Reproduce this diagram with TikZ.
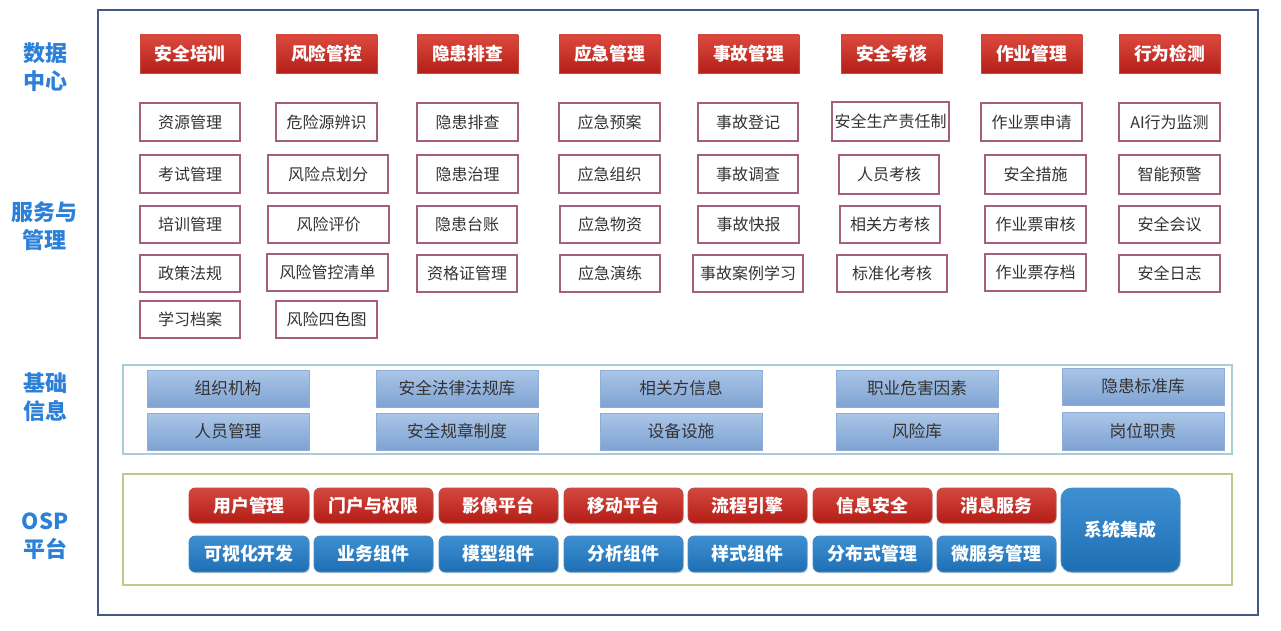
\documentclass[tikz,border=0pt]{standalone}
\usepackage{fontspec}
\setmainfont{Noto Sans CJK SC}
\usetikzlibrary{shadows}
\definecolor{frameC}{HTML}{3F5B86}
\definecolor{lblC}{HTML}{2C80D8}
\definecolor{hdrT}{HTML}{DB4A3E}
\definecolor{hdrB}{HTML}{B41F18}
\definecolor{hdrD}{HTML}{C8463E}
\definecolor{svcC}{HTML}{A45E7E}
\definecolor{txtC}{HTML}{333333}
\definecolor{baseT}{HTML}{ABC6E7}
\definecolor{baseB}{HTML}{7EA2D2}
\definecolor{baseD}{HTML}{8EAED6}
\definecolor{baseBox}{HTML}{A9CCD8}
\definecolor{ospBox}{HTML}{B8CC8C}
\definecolor{ospRT}{HTML}{D4483E}
\definecolor{ospRB}{HTML}{B31D17}
\definecolor{ospBT}{HTML}{3E90D2}
\definecolor{ospBB}{HTML}{1E6EB4}
\newcommand\bx[7]{\node[#6, minimum width={(#4-#2)*0.75pt}, minimum height={(#5-#3)*0.75pt}] (#1) at ({(#2+#4)/2},{(#3+#5)/2}) {#7};}
\begin{document}
\begin{tikzpicture}[x=0.75pt,y=-0.75pt,
  lbl/.style={text=lblC, font=\bfseries\fontsize{16.5}{21}\selectfont, align=center, inner sep=0},
  hdr/.style={top color=hdrT, bottom color=hdrB, draw=hdrD, line width=0.6pt, text=white, font=\bfseries\fontsize{13.3}{16}\selectfont, inner sep=0},
  svc/.style={draw=svcC, line width=1.1pt, fill=white, text=txtC, font=\fontsize{12}{14}\selectfont, inner sep=0},
  basebox/.style={top color=baseT, bottom color=baseB, draw=baseD, line width=0.5pt, text=txtC, font=\fontsize{12.5}{15}\selectfont, inner sep=0},
  ospr/.style={rounded corners=4.5pt, top color=ospRT, bottom color=ospRB, draw=ospRB!80!white, line width=0.5pt, text=white, font=\bfseries\fontsize{13.4}{16}\selectfont, inner sep=0, drop shadow={shadow xshift=0.6pt, shadow yshift=-1pt, opacity=0.3}},
  ospb/.style={rounded corners=4.5pt, top color=ospBT, bottom color=ospBB, draw=ospBB!80!white, line width=0.5pt, text=white, font=\bfseries\fontsize{13.4}{16}\selectfont, inner sep=0, drop shadow={shadow xshift=0.6pt, shadow yshift=-1pt, opacity=0.3}},
  container/.style={inner sep=0, fill=none}
]
\useasboundingbox (0,0) rectangle (1281,631);
% frame and section containers
\bx{frame}{98}{10}{1258}{615}{container, draw=frameC, line width=1.5pt}{}
\bx{basesec}{123}{365}{1232}{454}{container, draw=baseBox, line width=1.2pt}{}
\bx{ospsec}{123}{474}{1232}{585}{container, draw=ospBox, line width=1.5pt}{}
% left labels
\node[lbl] (l1) at (45,67) {数据\\中心};
\node[lbl] (l2) at (45,226) {服务与\\管理};
\node[lbl] (l3) at (45,397) {基础\\信息};
\node[lbl] (l4) at (45,536) {OSP\\平台};
% headers
\bx{h1}{140}{35}{240}{73}{hdr}{安全培训}
\bx{h2}{276}{35}{377}{73}{hdr}{风险管控}
\bx{h3}{417}{35}{518}{73}{hdr}{隐患排查}
\bx{h4}{559}{35}{660}{73}{hdr}{应急管理}
\bx{h5}{698}{35}{799}{73}{hdr}{事故管理}
\bx{h6}{841}{35}{942}{73}{hdr}{安全考核}
\bx{h7}{981}{35}{1082}{73}{hdr}{作业管理}
\bx{h8}{1119}{35}{1220}{73}{hdr}{行为检测}
% column 1
\bx{a1}{140}{103}{240}{141}{svc}{资源管理}
\bx{a2}{140}{155}{240}{193}{svc}{考试管理}
\bx{a3}{140}{206}{240}{243}{svc}{培训管理}
\bx{a4}{140}{255}{240}{292}{svc}{政策法规}
\bx{a5}{140}{301}{240}{338}{svc}{学习档案}
% column 2
\bx{b1}{276}{103}{377}{141}{svc}{危险源辨识}
\bx{b2}{268}{155}{388}{193}{svc}{风险点划分}
\bx{b3}{268}{206}{389}{243}{svc}{风险评价}
\bx{b4}{267}{254}{388}{291}{svc}{风险管控清单}
\bx{b5}{276}{301}{377}{338}{svc}{风险四色图}
% column 3
\bx{c1}{417}{103}{518}{141}{svc}{隐患排查}
\bx{c2}{417}{155}{518}{193}{svc}{隐患治理}
\bx{c3}{417}{206}{517}{243}{svc}{隐患台账}
\bx{c4}{417}{255}{517}{292}{svc}{资格证管理}
% column 4
\bx{d1}{559}{103}{660}{141}{svc}{应急预案}
\bx{d2}{559}{155}{660}{193}{svc}{应急组织}
\bx{d3}{560}{206}{660}{243}{svc}{应急物资}
\bx{d4}{560}{255}{660}{292}{svc}{应急演练}
% column 5
\bx{e1}{698}{103}{798}{141}{svc}{事故登记}
\bx{e2}{698}{155}{798}{193}{svc}{事故调查}
\bx{e3}{698}{206}{799}{243}{svc}{事故快报}
\bx{e4}{693}{255}{803}{292}{svc}{事故案例学习}
% column 6
\bx{f1}{832}{102}{949}{141}{svc}{安全生产责任制}
\bx{f2}{839}{155}{939}{194}{svc}{人员考核}
\bx{f3}{840}{206}{940}{243}{svc}{相关方考核}
\bx{f4}{837}{255}{947}{292}{svc}{标准化考核}
% column 7
\bx{g1}{981}{103}{1082}{141}{svc}{作业票申请}
\bx{g2}{985}{155}{1086}{194}{svc}{安全措施}
\bx{g3}{985}{206}{1086}{243}{svc}{作业票审核}
\bx{g4}{985}{254}{1086}{291}{svc}{作业票存档}
% column 8
\bx{k1}{1119}{103}{1220}{141}{svc}{AI行为监测}
\bx{k2}{1119}{155}{1220}{194}{svc}{智能预警}
\bx{k3}{1119}{206}{1220}{243}{svc}{安全会议}
\bx{k4}{1119}{255}{1220}{292}{svc}{安全日志}
% base info
\bx{p1}{147}{370}{309}{407}{basebox}{组织机构}
\bx{p2}{147}{413}{309}{450}{basebox}{人员管理}
\bx{p3}{376}{370}{538}{407}{basebox}{安全法律法规库}
\bx{p4}{376}{413}{538}{450}{basebox}{安全规章制度}
\bx{p5}{600}{370}{762}{407}{basebox}{相关方信息}
\bx{p6}{600}{413}{762}{450}{basebox}{设备设施}
\bx{p7}{836}{370}{998}{407}{basebox}{职业危害因素}
\bx{p8}{836}{413}{998}{450}{basebox}{风险库}
\bx{p9}{1062}{368}{1224}{405}{basebox}{隐患标准库}
\bx{p10}{1062}{412}{1224}{450}{basebox}{岗位职责}
% OSP platform
\bx{r1}{189}{488}{309}{523}{ospr}{用户管理}
\bx{r2}{314}{488}{433}{523}{ospr}{门户与权限}
\bx{r3}{439}{488}{558}{523}{ospr}{影像平台}
\bx{r4}{564}{488}{683}{523}{ospr}{移动平台}
\bx{r5}{688}{488}{807}{523}{ospr}{流程引擎}
\bx{r6}{813}{488}{932}{523}{ospr}{信息安全}
\bx{r7}{937}{488}{1056}{523}{ospr}{消息服务}
\bx{s1}{189}{536}{309}{572}{ospb}{可视化开发}
\bx{s2}{314}{536}{433}{572}{ospb}{业务组件}
\bx{s3}{439}{536}{558}{572}{ospb}{模型组件}
\bx{s4}{564}{536}{683}{572}{ospb}{分析组件}
\bx{s5}{688}{536}{807}{572}{ospb}{样式组件}
\bx{s6}{813}{536}{932}{572}{ospb}{分布式管理}
\bx{s7}{937}{536}{1056}{572}{ospb}{微服务管理}
\bx{sys}{1061}{488}{1180}{572}{ospb, rounded corners=8pt}{系统集成}
\end{tikzpicture}
\end{document}
